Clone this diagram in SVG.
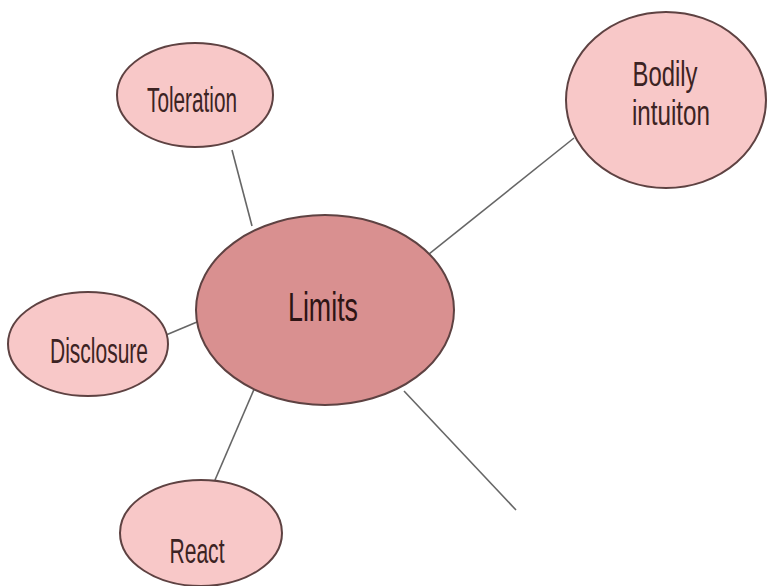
<svg xmlns="http://www.w3.org/2000/svg" width="767" height="586" viewBox="0 0 767 586">
<style>
.bg{fill:#ffffff}
.node{fill:#f8c8c8;stroke:#5e4242;stroke-width:2}
.main{fill:#d99090;stroke:#5e4242;stroke-width:2}
.lbl{font-family:"Liberation Sans",Arial,sans-serif;font-size:35px;fill:#3c2323;text-anchor:middle}
.big{font-size:41px;fill:#2e1414}
.edge{stroke:#666666;stroke-width:1.6;fill:none}
</style>
<rect class="bg" x="0" y="0" width="767" height="586"/>
<g id="connectors">
<line class="edge" x1="232" y1="150" x2="252" y2="226"/>
<line class="edge" x1="574" y1="138" x2="424" y2="258"/>
<line class="edge" x1="166" y1="335" x2="197" y2="322"/>
<line class="edge" x1="215" y1="480" x2="258" y2="380"/>
<line class="edge" x1="404" y1="391" x2="516" y2="510"/>
</g>
<g id="toleration">
<ellipse class="node" cx="195" cy="95" rx="78" ry="52"/>
<text class="lbl" x="192" y="112" textLength="90" lengthAdjust="spacingAndGlyphs">Toleration</text>
</g>
<g id="bodily">
<ellipse class="node" cx="666" cy="100" rx="100" ry="88"/>
<text class="lbl" x="665" y="86" textLength="65" lengthAdjust="spacingAndGlyphs">Bodily</text>
<text class="lbl" x="671" y="125" textLength="78" lengthAdjust="spacingAndGlyphs">intuiton</text>
</g>
<g id="limits">
<ellipse class="main" cx="325" cy="310" rx="129" ry="95"/>
<text class="lbl big" x="323" y="321" textLength="70" lengthAdjust="spacingAndGlyphs">Limits</text>
</g>
<g id="disclosure">
<ellipse class="node" cx="88" cy="344" rx="80" ry="52"/>
<text class="lbl" x="99" y="363" textLength="98" lengthAdjust="spacingAndGlyphs">Disclosure</text>
</g>
<g id="react">
<ellipse class="node" cx="201" cy="533" rx="81" ry="53"/>
<text class="lbl" x="197" y="563" textLength="55" lengthAdjust="spacingAndGlyphs">React</text>
</g>
</svg>
